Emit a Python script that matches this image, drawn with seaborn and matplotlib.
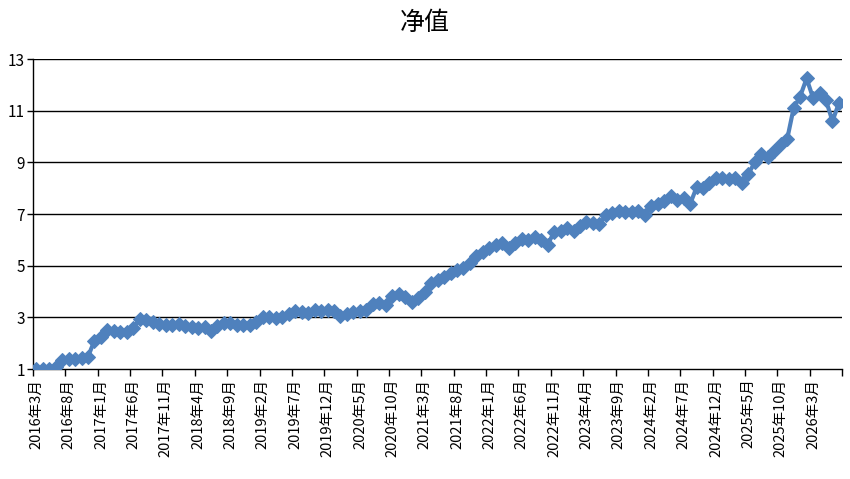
import numpy as np
import pandas as pd
import matplotlib
matplotlib.use('Agg')
import matplotlib.pyplot as plt
import seaborn as sns

# monthly net value, 2016-03 .. 2026-07
start_year, start_month = 2016, 3
nav = [1.00, 1.00, 1.01, 1.08, 1.33, 1.40, 1.38, 1.42, 1.48, 2.10,
       2.25, 2.50, 2.48, 2.45, 2.42, 2.57, 2.95, 2.88, 2.82, 2.76,
       2.72, 2.72, 2.75, 2.68, 2.63, 2.58, 2.64, 2.47, 2.68, 2.77,
       2.80, 2.70, 2.72, 2.70, 2.82, 3.00, 3.03, 2.97, 3.02, 3.12,
       3.25, 3.20, 3.15, 3.28, 3.25, 3.30, 3.25, 3.05, 3.12, 3.22,
       3.25, 3.30, 3.52, 3.55, 3.47, 3.82, 3.90, 3.80, 3.58, 3.75,
       3.97, 4.33, 4.46, 4.56, 4.72, 4.85, 4.92, 5.10, 5.36, 5.55,
       5.70, 5.80, 5.88, 5.70, 5.87, 6.05, 6.00, 6.12, 6.00, 5.82,
       6.30, 6.36, 6.45, 6.36, 6.55, 6.68, 6.64, 6.60, 6.96, 7.03,
       7.10, 7.08, 7.08, 7.10, 6.98, 7.30, 7.38, 7.52, 7.70, 7.55,
       7.62, 7.38, 8.03, 8.00, 8.20, 8.40, 8.40, 8.35, 8.40, 8.22,
       8.55, 9.00, 9.33, 9.20, 9.45, 9.70, 9.90, 11.10, 11.55, 12.25,
       11.50, 11.70, 11.40, 10.60, 11.30]

months = []
for k in range(len(nav)):
    m = start_month - 1 + k
    months.append(f"{start_year + m // 12}年{m % 12 + 1}月")

y_ticks = [1, 3, 5, 7, 9, 11, 13]

df = pd.DataFrame({'pos': np.arange(len(nav)) + 0.5, 'nav': nav})

sns.set_theme(style='white')
plt.rcParams['font.family'] = ['Noto Sans CJK SC', 'DejaVu Sans']
plt.rcParams['text.color'] = 'black'
plt.rcParams['xtick.color'] = 'black'
plt.rcParams['ytick.color'] = 'black'

fig = plt.figure(figsize=(8.5, 4.79), dpi=100)
ax = fig.add_axes([0.0388, 0.2296, 0.952, 0.647])

for v in y_ticks[1:]:
    ax.axhline(v, color='black', lw=1.0, zorder=1)

sns.lineplot(data=df, x='pos', y='nav', ax=ax, color='#4F81BD', lw=3,
             marker='D', markersize=7.5, markeredgecolor='#4F81BD', zorder=3)

ax.set_xlim(0, len(nav))
ax.set_ylim(1, 13)
ax.set_yticks(y_ticks)
ax.set_yticklabels([str(v) for v in y_ticks], fontsize=11)

# tick marks at category boundaries, labels centred on categories
ax.set_xticks(np.arange(0, len(nav) + 1, 5))
ax.set_xticklabels([])
ax.set_xticks(np.arange(0, len(nav), 5) + 0.5, minor=True)
ax.set_xticklabels([months[i] for i in range(0, len(nav), 5)], minor=True,
                   rotation=90, fontsize=10.5)
ax.tick_params(axis='x', which='major', direction='out', length=5, width=1,
               color='black', bottom=True)
ax.tick_params(axis='x', which='minor', length=0, pad=7, bottom=True)
ax.tick_params(axis='y', direction='out', length=4, width=1, color='black',
               left=True, pad=2)

ax.set_xlabel('')
ax.set_ylabel('')
for s in ['top', 'right']:
    ax.spines[s].set_visible(False)
for s in ['left', 'bottom']:
    ax.spines[s].set_color('black')
    ax.spines[s].set_linewidth(1)

fig.text(0.5, 0.953, '净值', ha='center', va='center', fontsize=18,
         color='black')

fig.savefig('out.png', dpi=100)
